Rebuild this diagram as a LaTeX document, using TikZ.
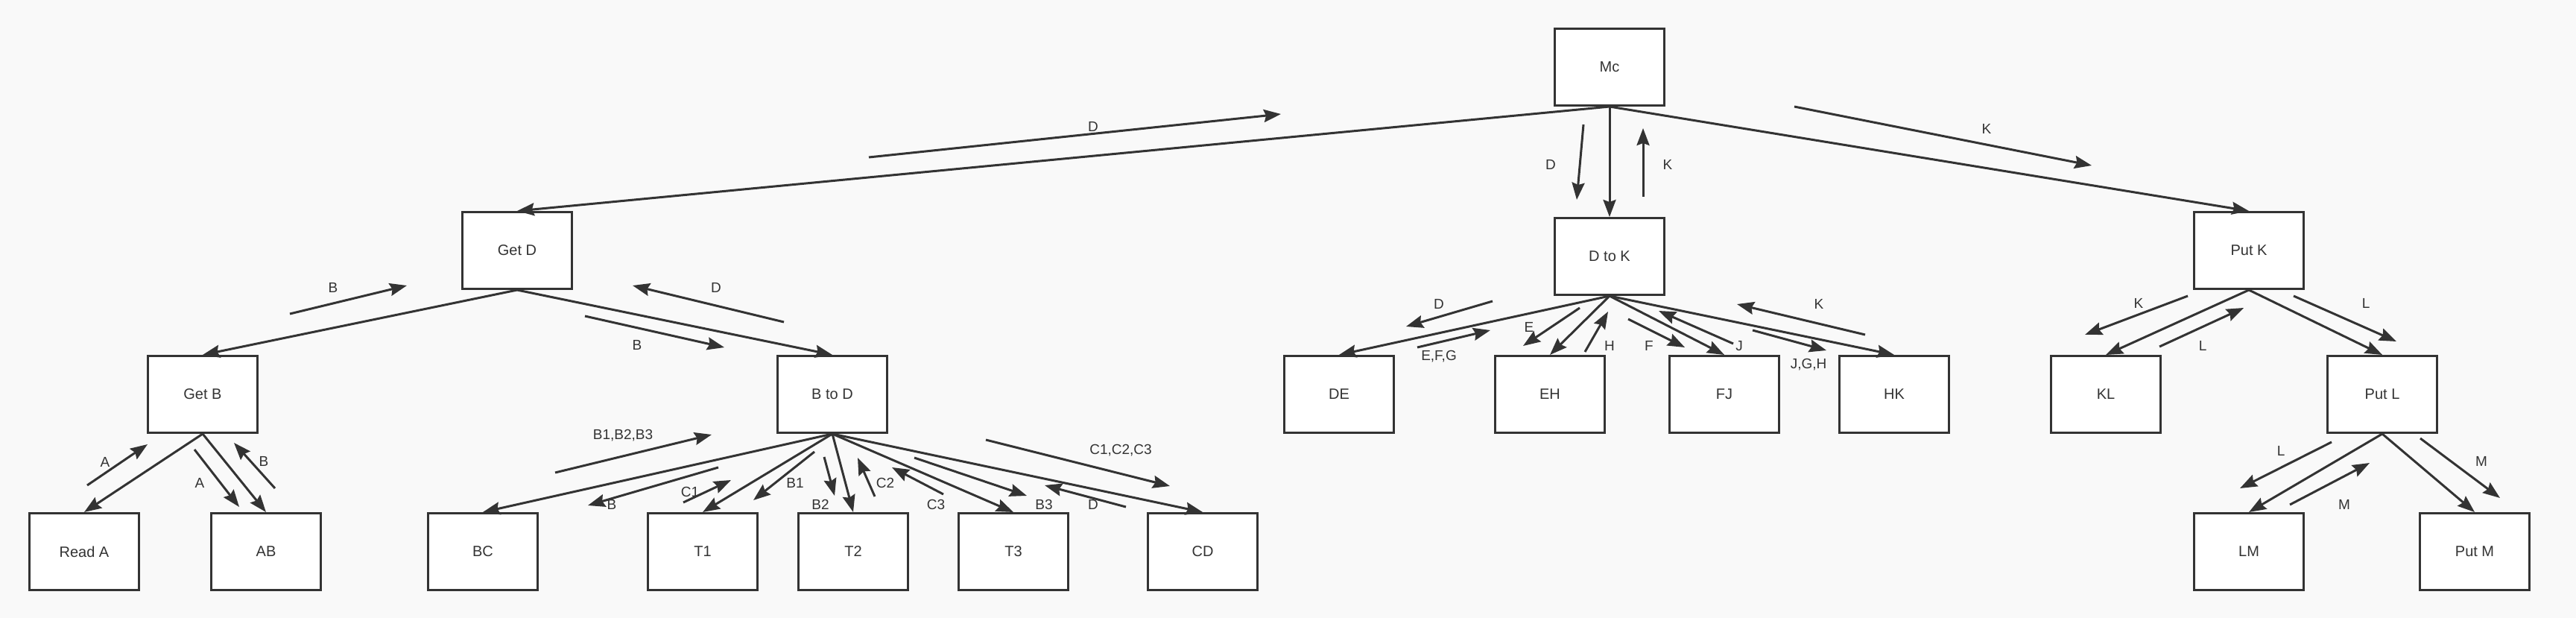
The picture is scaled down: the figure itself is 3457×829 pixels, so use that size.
\documentclass[tikz,border=0pt]{standalone}
\usepackage{fontspec}
\setmainfont{Liberation Sans}
\usetikzlibrary{arrows.meta}
\definecolor{mline}{HTML}{333333}
\definecolor{mback}{HTML}{F9F9F9}

\begin{document}
\begin{tikzpicture}[x=1pt, y=-1pt,
    box/.style={draw=mline, fill=white, line width=3pt, minimum width=147pt, minimum height=103pt, inner sep=0pt, text=mline, font=\fontsize{20}{24}\selectfont},
    edge/.style={draw=mline, line width=3pt, -{Stealth[length=23pt, width=17pt, inset=3pt]}},
    msg/.style={edge},
    lbl/.style={text=mline, inner sep=0pt, font=\fontsize{19}{22}\selectfont}]
    \fill [mback] (0, 0) rectangle (3457, 829);

    % top row
    \node[box] (mc) at (2160, 90) {Mc};
    \node[box] (getd) at (694, 336) {Get D};
    \node[box] (dtok) at (2160, 344) {D to K};
    \node[box] (putk) at (3018, 336) {Put K};

    % middle row
    \node[box] (getb) at (272, 529) {Get B};
    \node[box] (btod) at (1117, 529) {B to D};
    \node[box] (de) at (1797, 529) {DE};
    \node[box] (eh) at (2080, 529) {EH};
    \node[box] (fj) at (2314, 529) {FJ};
    \node[box] (hk) at (2542, 529) {HK};
    \node[box] (kl) at (2826, 529) {KL};
    \node[box] (putl) at (3197, 529) {Put L};

    % bottom row
    \node[box] (reada) at (113, 740) {Read A};
    \node[box] (ab) at (357, 740) {AB};
    \node[box] (bc) at (648, 740) {BC};
    \node[box] (t1) at (943, 740) {T1};
    \node[box] (t2) at (1145, 740) {T2};
    \node[box] (t3) at (1360, 740) {T3};
    \node[box] (cd) at (1614, 740) {CD};
    \node[box] (lm) at (3018, 740) {LM};
    \node[box] (putm) at (3321, 740) {Put M};

    % tree
    \foreach \a/\b in {mc/getd, mc/dtok, mc/putk, getd/getb, getd/btod, getb/reada, getb/ab,
        btod/bc, btod/t1, btod/t2, btod/t3, btod/cd, dtok/de, dtok/eh, dtok/fj, dtok/hk,
        putk/kl, putk/putl, putl/lm, putl/putm}
        \draw[edge] (\a.south) -- (\b.north);

    % messages
    \foreach \sx/\sy/\ex/\ey/\lx/\ly/\txt [count=\i] in {
        1166/211/1719/153/1467/170/D, 2125/167/2116/268/2081/221/D, 2205/264/2205/172/2238/221/K,
        2408/143/2807/222/2666/173/K, 389/421/546/383/447/386/B, 1052/432/849/383/961/386/D,
        785/424/972/466/855/463/B, 117/651/198/596/141/620/A, 261/603/321/680/268/648/A,
        369/655/314/594/354/619/B, 745/634/955/583/836/584/{B1,B2,B3}, 964/627/789/678/821/677/B,
        917/674/981/644/926/660/C1, 1093/606/1011/671/1067/648/B1, 1106/613/1120/665/1101/677/B2,
        1174/666/1151/614/1188/648/C2, 1266/663/1197/627/1256/677/C3, 1227/614/1378/665/1401/677/B3,
        1511/680/1402/651/1467/677/D, 1323/590/1570/652/1504/604/{C1,C2,C3},
        2003/404/1887/438/1931/408/D, 1902/466/2000/443/1931/478/{E,F,G}, 2120/413/2044/464/2052/439/E,
        2127/472/2158/418/2160/464/H, 2185/428/2261/466/2213/464/F, 2326/461/2226/417/2334/464/J,
        2352/443/2451/470/2427/489/{J,G,H}, 2503/449/2331/408/2441/408/K,
        2936/397/2798/449/2870/407/K, 2898/465/3011/413/2956/464/L, 3078/397/3216/458/3175/407/L,
        3129/593/3006/655/3061/605/L, 3073/677/3180/621/3146/677/M, 3248/588/3355/668/3330/619/M}
    {
        \coordinate (s\i) at (\sx, \sy);
        \coordinate (e\i) at (\ex, \ey);
        \draw[msg] (s\i) -- (e\i);
        \node[lbl] (m\i) at (\lx, \ly) {\txt};
    }
\end{tikzpicture}
\end{document}
